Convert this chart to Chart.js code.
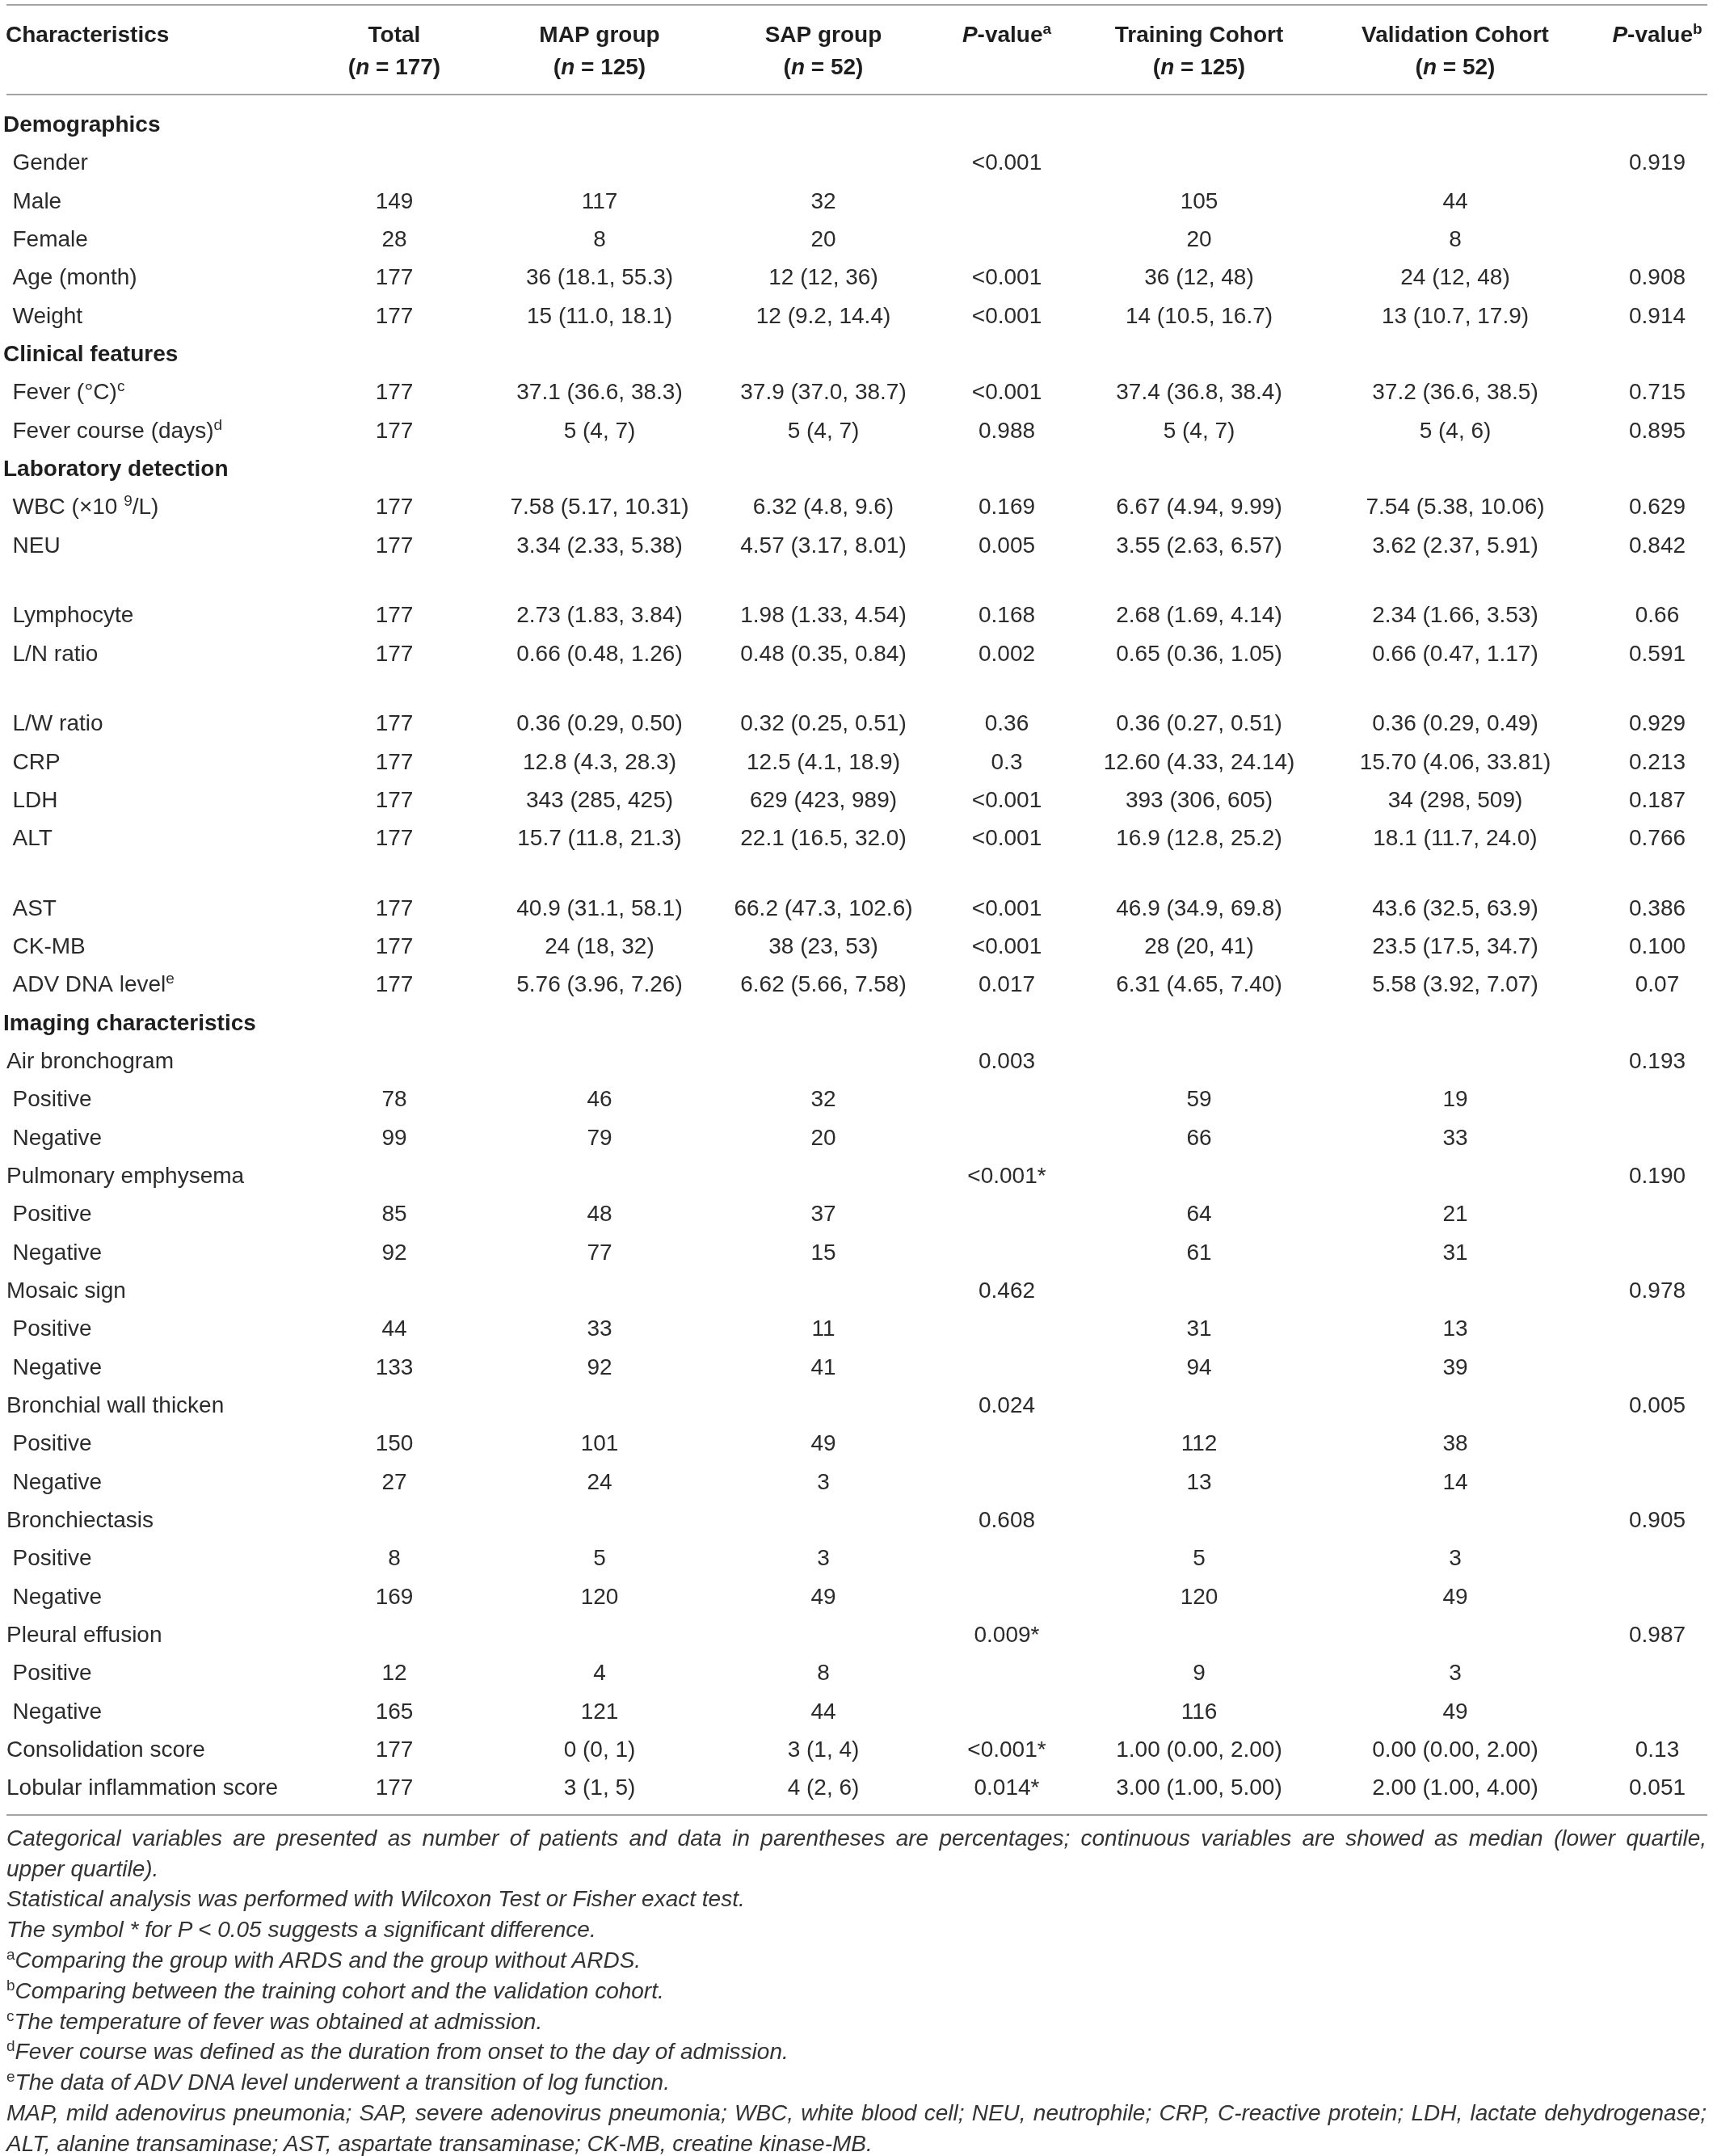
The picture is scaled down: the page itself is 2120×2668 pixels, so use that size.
<!DOCTYPE html>
<html>
<head>
<meta charset="utf-8">
<script src="https://cdn.jsdelivr.net/npm/chart.js@4.4.1/dist/chart.umd.min.js"></script>
<style>
  html, body { margin: 0; padding: 0; background: #fff; }
  #wrap { position: relative; width: 2120px; height: 2668px; overflow: hidden; background: #fff; }
  #tbl { position: absolute; left: 0; top: 0; }
  #notes { position: absolute; left: 8px; top: 2255.9px; width: 2104px;
           font: italic 28px/37.8px "Liberation Sans", Arial, Helvetica, sans-serif; color: #333; }
  #notes div { white-space: nowrap; height: 37.8px; line-height: 37.8px; }
  #notes .j { text-align: justify; text-align-last: justify; }
  #notes .s { font-style: normal; font-size: 19px; line-height: 0; position: relative; top: -10px; }
</style>
</head>
<body>
<div id="wrap">
  <canvas id="tbl" width="2120" height="2668"></canvas>
  <div id="notes">
    <div class="j">Categorical variables are presented as number of patients and data in parentheses are percentages; continuous variables are showed as median (lower quartile,</div>
    <div>upper quartile).</div>
    <div>Statistical analysis was performed with Wilcoxon Test or Fisher exact test.</div>
    <div>The symbol * for P &lt; 0.05 suggests a significant difference.</div>
    <div><span class="s">a</span>Comparing the group with ARDS and the group without ARDS.</div>
    <div><span class="s">b</span>Comparing between the training cohort and the validation cohort.</div>
    <div><span class="s">c</span>The temperature of fever was obtained at admission.</div>
    <div><span class="s">d</span>Fever course was defined as the duration from onset to the day of admission.</div>
    <div><span class="s">e</span>The data of ADV DNA level underwent a transition of log function.</div>
    <div class="j">MAP, mild adenovirus pneumonia; SAP, severe adenovirus pneumonia; WBC, white blood cell; NEU, neutrophile; CRP, C-reactive protein; LDH, lactate dehydrogenase;</div>
    <div>ALT, alanine transaminase; AST, aspartate transaminase; CK-MB, creatine kinase-MB.</div>
  </div>
</div>
<script>
// ---------------- DATA ----------------
// markup: {x} = superscript, _x_ = italic
const characteristics = [
  "Demographics", "Gender", "Male", "Female", "Age (month)", "Weight",
  "Clinical features", "Fever (°C){c}", "Fever course (days){d}",
  "Laboratory detection", "WBC (×10 {9}/L)", "NEU", "Lymphocyte", "L/N ratio",
  "L/W ratio", "CRP", "LDH", "ALT", "AST", "CK-MB", "ADV DNA level{e}",
  "Imaging characteristics",
  "Air bronchogram", "Positive", "Negative",
  "Pulmonary emphysema", "Positive", "Negative",
  "Mosaic sign", "Positive", "Negative",
  "Bronchial wall thicken", "Positive", "Negative",
  "Bronchiectasis", "Positive", "Negative",
  "Pleural effusion", "Positive", "Negative",
  "Consolidation score", "Lobular inflammation score"
];
const totalValues = [
  "", "", "149", "28", "177", "177",
  "", "177", "177",
  "", "177", "177", "177", "177",
  "177", "177", "177", "177", "177", "177", "177",
  "",
  "", "78", "99",
  "", "85", "92",
  "", "44", "133",
  "", "150", "27",
  "", "8", "169",
  "", "12", "165",
  "177", "177"
];
const mapValues = [
  "", "", "117", "8", "36 (18.1, 55.3)", "15 (11.0, 18.1)",
  "", "37.1 (36.6, 38.3)", "5 (4, 7)",
  "", "7.58 (5.17, 10.31)", "3.34 (2.33, 5.38)", "2.73 (1.83, 3.84)", "0.66 (0.48, 1.26)",
  "0.36 (0.29, 0.50)", "12.8 (4.3, 28.3)", "343 (285, 425)", "15.7 (11.8, 21.3)",
  "40.9 (31.1, 58.1)", "24 (18, 32)", "5.76 (3.96, 7.26)",
  "",
  "", "46", "79",
  "", "48", "77",
  "", "33", "92",
  "", "101", "24",
  "", "5", "120",
  "", "4", "121",
  "0 (0, 1)", "3 (1, 5)"
];
const sapValues = [
  "", "", "32", "20", "12 (12, 36)", "12 (9.2, 14.4)",
  "", "37.9 (37.0, 38.7)", "5 (4, 7)",
  "", "6.32 (4.8, 9.6)", "4.57 (3.17, 8.01)", "1.98 (1.33, 4.54)", "0.48 (0.35, 0.84)",
  "0.32 (0.25, 0.51)", "12.5 (4.1, 18.9)", "629 (423, 989)", "22.1 (16.5, 32.0)",
  "66.2 (47.3, 102.6)", "38 (23, 53)", "6.62 (5.66, 7.58)",
  "",
  "", "32", "20",
  "", "37", "15",
  "", "11", "41",
  "", "49", "3",
  "", "3", "49",
  "", "8", "44",
  "3 (1, 4)", "4 (2, 6)"
];
const pValuesA = [
  "", "<0.001", "", "", "<0.001", "<0.001",
  "", "<0.001", "0.988",
  "", "0.169", "0.005", "0.168", "0.002",
  "0.36", "0.3", "<0.001", "<0.001", "<0.001", "<0.001", "0.017",
  "",
  "0.003", "", "",
  "<0.001*", "", "",
  "0.462", "", "",
  "0.024", "", "",
  "0.608", "", "",
  "0.009*", "", "",
  "<0.001*", "0.014*"
];
const trainingValues = [
  "", "", "105", "20", "36 (12, 48)", "14 (10.5, 16.7)",
  "", "37.4 (36.8, 38.4)", "5 (4, 7)",
  "", "6.67 (4.94, 9.99)", "3.55 (2.63, 6.57)", "2.68 (1.69, 4.14)", "0.65 (0.36, 1.05)",
  "0.36 (0.27, 0.51)", "12.60 (4.33, 24.14)", "393 (306, 605)", "16.9 (12.8, 25.2)",
  "46.9 (34.9, 69.8)", "28 (20, 41)", "6.31 (4.65, 7.40)",
  "",
  "", "59", "66",
  "", "64", "61",
  "", "31", "94",
  "", "112", "13",
  "", "5", "120",
  "", "9", "116",
  "1.00 (0.00, 2.00)", "3.00 (1.00, 5.00)"
];
const validationValues = [
  "", "", "44", "8", "24 (12, 48)", "13 (10.7, 17.9)",
  "", "37.2 (36.6, 38.5)", "5 (4, 6)",
  "", "7.54 (5.38, 10.06)", "3.62 (2.37, 5.91)", "2.34 (1.66, 3.53)", "0.66 (0.47, 1.17)",
  "0.36 (0.29, 0.49)", "15.70 (4.06, 33.81)", "34 (298, 509)", "18.1 (11.7, 24.0)",
  "43.6 (32.5, 63.9)", "23.5 (17.5, 34.7)", "5.58 (3.92, 7.07)",
  "",
  "", "19", "33",
  "", "21", "31",
  "", "13", "39",
  "", "38", "14",
  "", "3", "49",
  "", "3", "49",
  "0.00 (0.00, 2.00)", "2.00 (1.00, 4.00)"
];
const pValuesB = [
  "", "0.919", "", "", "0.908", "0.914",
  "", "0.715", "0.895",
  "", "0.629", "0.842", "0.66", "0.591",
  "0.929", "0.213", "0.187", "0.766", "0.386", "0.100", "0.07",
  "",
  "0.193", "", "",
  "0.190", "", "",
  "0.978", "", "",
  "0.005", "", "",
  "0.905", "", "",
  "0.987", "", "",
  "0.13", "0.051"
];
const headerLine1 = ["Characteristics", "Total", "MAP group", "SAP group", "_P_-value{a}", "Training Cohort", "Validation Cohort", "_P_-value{b}"];
const headerLine2 = ["", "(_n_ = 177)", "(_n_ = 125)", "(_n_ = 52)", "", "(_n_ = 125)", "(_n_ = 52)", ""];
const sectionRows = ["Demographics", "Clinical features", "Laboratory detection", "Imaging characteristics"];
const parentRows = ["Air bronchogram", "Pulmonary emphysema", "Mosaic sign", "Bronchial wall thicken",
                    "Bronchiectasis", "Pleural effusion", "Consolidation score", "Lobular inflammation score"];
const spacedAfter = ["NEU", "L/N ratio", "ALT"];  // rows followed by an empty spacer

// ---------------- LAYOUT ----------------
const W = 2120, H = 2668;
const ROW_PITCH = 47.33, FIRST_ROW_PX = 153, GAP = 0.83;
const COL_X = [0, 488, 742, 1019, 1246, 1484, 1801, 2051];
const INDENT = { sec: 4, par: 8, sub: 15.5 };
const HEADER_X0 = 7;
const CAP_HALF = 10;
const FONT = '"Liberation Sans", Arial, Helvetica, sans-serif';
const TXT = "#2b2b2b", BOLD_TXT = "#1e1e1e", RULE = "#a3a3a3";
const pxToV = px => (px - FIRST_ROW_PX) / ROW_PITCH;
const HEAD_Y1 = pxToV(41.7), HEAD_Y2 = pxToV(82);

const columns = [characteristics, totalValues, mapValues, sapValues, pValuesA, trainingValues, validationValues, pValuesB];
const rowPos = [];
let gapCount = 0;
characteristics.forEach((c, i) => {
  rowPos.push(i + GAP * gapCount);
  if (spacedAfter.includes(c)) gapCount++;
});
const lastPos = rowPos[rowPos.length - 1];
const RULES = [pxToV(5.5), pxToV(116.5), lastPos + 0.74];
const RULE_X0 = 8, RULE_X1 = 2113;

function kindOf(label) {
  if (sectionRows.includes(label)) return "sec";
  if (parentRows.includes(label)) return "par";
  return "sub";
}

const datasets = columns.map((col, c) => {
  const data = [], texts = [], bolds = [];
  col.forEach((t, i) => {
    if (t === "") return;
    const k = kindOf(characteristics[i]);
    data.push({ x: c === 0 ? INDENT[k] : COL_X[c], y: rowPos[i] });
    texts.push(t);
    bolds.push(c === 0 && k === "sec");
  });
  return { label: headerLine1[c], data, texts, bolds, align: c === 0 ? "left" : "center",
           pointRadius: 0, pointHoverRadius: 0, showLine: false };
});

// ---------------- RICH TEXT ----------------
function parse(str) {
  const segs = []; let cur = "", sup = false, ital = false;
  const push = () => { if (cur) segs.push({ t: cur, sup, ital }); cur = ""; };
  for (const ch of str) {
    if (ch === "{") { push(); sup = true; }
    else if (ch === "}") { push(); sup = false; }
    else if (ch === "_") { push(); ital = !ital; }
    else cur += ch;
  }
  push();
  return segs;
}
function fontFor(seg, bold) {
  const size = seg.sup ? 19 : 28;
  return (seg.ital ? "italic " : "") + (bold ? "bold " : "") + size + "px " + FONT;
}
function drawRich(ctx, str, x, baseline, align, bold) {
  const segs = parse(str);
  let w = 0;
  segs.forEach(s => { ctx.font = fontFor(s, bold); s.w = ctx.measureText(s.t).width; w += s.w; });
  let cx = align === "center" ? x - w / 2 : x;
  ctx.fillStyle = bold ? BOLD_TXT : TXT;
  ctx.textAlign = "left";
  ctx.textBaseline = "alphabetic";
  segs.forEach(s => {
    ctx.font = fontFor(s, bold);
    ctx.fillText(s.t, cx, baseline - (s.sup ? 10 : 0));
    cx += s.w;
  });
}

const tablePlugin = {
  id: "tableText",
  afterDatasetsDraw(chart) {
    const ctx = chart.ctx, xs = chart.scales.x, ys = chart.scales.y;
    ctx.save();
    ctx.strokeStyle = RULE; ctx.lineWidth = 2;
    RULES.forEach(v => {
      const y = Math.round(ys.getPixelForValue(v));
      ctx.beginPath();
      ctx.moveTo(xs.getPixelForValue(RULE_X0), y);
      ctx.lineTo(xs.getPixelForValue(RULE_X1), y);
      ctx.stroke();
    });
    headerLine1.forEach((t, c) => {
      const x = xs.getPixelForValue(c === 0 ? HEADER_X0 : COL_X[c]);
      drawRich(ctx, t, x, ys.getPixelForValue(HEAD_Y1) + CAP_HALF, c === 0 ? "left" : "center", true);
      if (headerLine2[c]) drawRich(ctx, headerLine2[c], x, ys.getPixelForValue(HEAD_Y2) + CAP_HALF, "center", true);
    });
    chart.data.datasets.forEach((ds, di) => {
      const meta = chart.getDatasetMeta(di);
      meta.data.forEach((el, j) => {
        drawRich(ctx, ds.texts[j], el.x, el.y + CAP_HALF, ds.align, ds.bolds[j]);
      });
    });
    ctx.restore();
  }
};

new Chart(document.getElementById("tbl"), {
  type: "scatter",
  data: { datasets },
  options: {
    responsive: false,
    devicePixelRatio: 1,
    animation: false,
    events: [],
    layout: { padding: 0 },
    plugins: { legend: { display: false }, tooltip: { enabled: false } },
    scales: {
      x: { type: "linear", display: false, min: 0, max: W },
      y: { type: "linear", display: false, reverse: true,
           min: -FIRST_ROW_PX / ROW_PITCH, max: -FIRST_ROW_PX / ROW_PITCH + H / ROW_PITCH }
    }
  },
  plugins: [tablePlugin]
});
</script>
</body>
</html>
